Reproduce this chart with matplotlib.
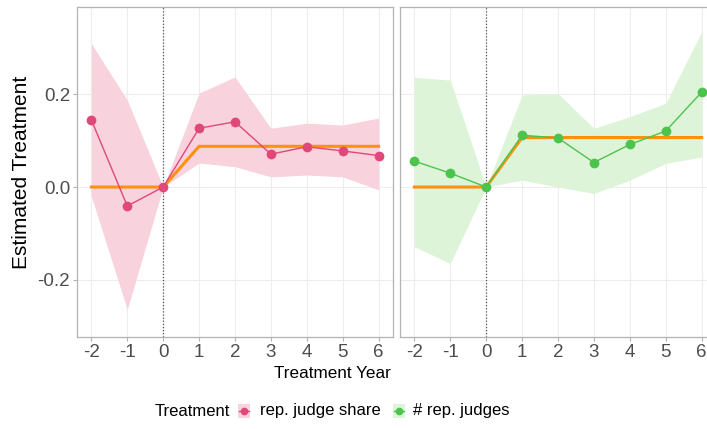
import matplotlib
matplotlib.use("Agg")
import matplotlib.pyplot as plt
from matplotlib.lines import Line2D
from matplotlib.patches import Rectangle

plt.rcParams['font.family'] = ['Liberation Sans', 'DejaVu Sans']

years = [-2, -1, 0, 1, 2, 3, 4, 5, 6]
tick_labels = ["-2", "-1", "0", "1", "2", "3", "4", "5", "6"]

share_est = [0.145, -0.041, 0.0, 0.127, 0.141, 0.071, 0.087, 0.078, 0.068]
share_hi = [0.310, 0.188, 0.0, 0.203, 0.238, 0.127, 0.138, 0.134, 0.149]
share_lo = [-0.020, -0.265, 0.0, 0.052, 0.044, 0.022, 0.026, 0.022, -0.006]
share_avg = [0.0, 0.0, 0.0, 0.088, 0.088, 0.088, 0.088, 0.088, 0.088]

num_est = [0.056, 0.030, 0.0, 0.112, 0.106, 0.053, 0.092, 0.121, 0.205]
num_hi = [0.237, 0.231, 0.0, 0.199, 0.202, 0.127, 0.152, 0.181, 0.335]
num_lo = [-0.129, -0.165, 0.0, 0.015, 0.0, -0.014, 0.015, 0.051, 0.065]
num_avg = [0.0, 0.0, 0.0, 0.107, 0.107, 0.107, 0.107, 0.107, 0.107]

y_ticks = [-0.2, 0.0, 0.2]
y_tick_labels = ["-0.2", "0.0", "0.2"]

legend_title = "Treatment"
legend_labels = ["rep. judge share", "# rep. judges"]

red = "#E0487A"
red_fill = "#F8D2DC"
green = "#4CC44C"
green_fill = "#DDF4D8"
orange = "#FF9010"

W, H = 707, 429
fig = plt.figure(figsize=(W / 100, H / 100), dpi=100)

def make_ax(left_px, est, hi, lo, avg, col, fillcol, show_y):
    ax = fig.add_axes([left_px / W, (H - 337) / H, 316 / W, 330 / H])
    ax.set_xlim(-2.4, 6.4)
    ax.set_ylim(-0.324, 0.389)
    ax.set_xticks(years)
    ax.set_xticklabels(tick_labels)
    ax.set_yticks(y_ticks)
    ax.set_yticklabels(y_tick_labels if show_y else [])
    ax.grid(True, color="#EDEDED", linewidth=0.8)
    ax.set_axisbelow(True)
    for s in ax.spines.values():
        s.set_color("#B3B3B3")
        s.set_linewidth(0.9)
    ax.tick_params(axis='both', colors="#B3B3B3", labelcolor="#4D4D4D",
                   labelsize=13.5, length=3, width=0.8, pad=2)
    if not show_y:
        ax.tick_params(axis='y', length=0)
    ax.fill_between(years, lo, hi, color=fillcol, linewidth=0, zorder=1)
    ax.axvline(0, color="#555555", linestyle=(0, (1, 1.5)), linewidth=0.9, zorder=2)
    ax.plot(years, avg, color=orange, linewidth=2.2, zorder=3)
    ax.plot(years, est, color=col, linewidth=1.0, zorder=4)
    ax.plot(years, est, 'o', color=col, markersize=6, zorder=5)
    return ax

ax1 = make_ax(77, share_est, share_hi, share_lo, share_avg, red, red_fill, True)
ax2 = make_ax(400, num_est, num_hi, num_lo, num_avg, green, green_fill, False)

fig.text(22 / W, 1 - 172 / H, "Estimated Treatment", rotation=90, ha='center',
         va='center', fontsize=15)
fig.text(332 / W, 1 - 374 / H, "Treatment Year", ha='center', va='center', fontsize=12.3)

# manual legend
ly = 1 - 411 / H
fig.text(155 / W, ly, legend_title, ha='left', va='center', fontsize=12)
for kx, tx, pc, fc, lab in [(244, 260, red, red_fill, legend_labels[0]),
                            (399, 413, green, green_fill, legend_labels[1])]:
    fig.patches.append(Rectangle(((kx - 6) / W, ly - 7 / H), 12 / W, 14 / H,
                                 facecolor=fc, edgecolor='none', transform=fig.transFigure))
    fig.lines.append(Line2D([(kx - 5) / W, (kx + 5) / W], [ly, ly], color=pc,
                            linewidth=1.0, transform=fig.transFigure))
    fig.lines.append(Line2D([kx / W], [ly], marker='o', color=pc, markersize=4.5,
                            linestyle='None', transform=fig.transFigure))
    fig.text(tx / W, ly, lab, ha='left', va='center', fontsize=12)

fig.savefig("out.png", dpi=100)
